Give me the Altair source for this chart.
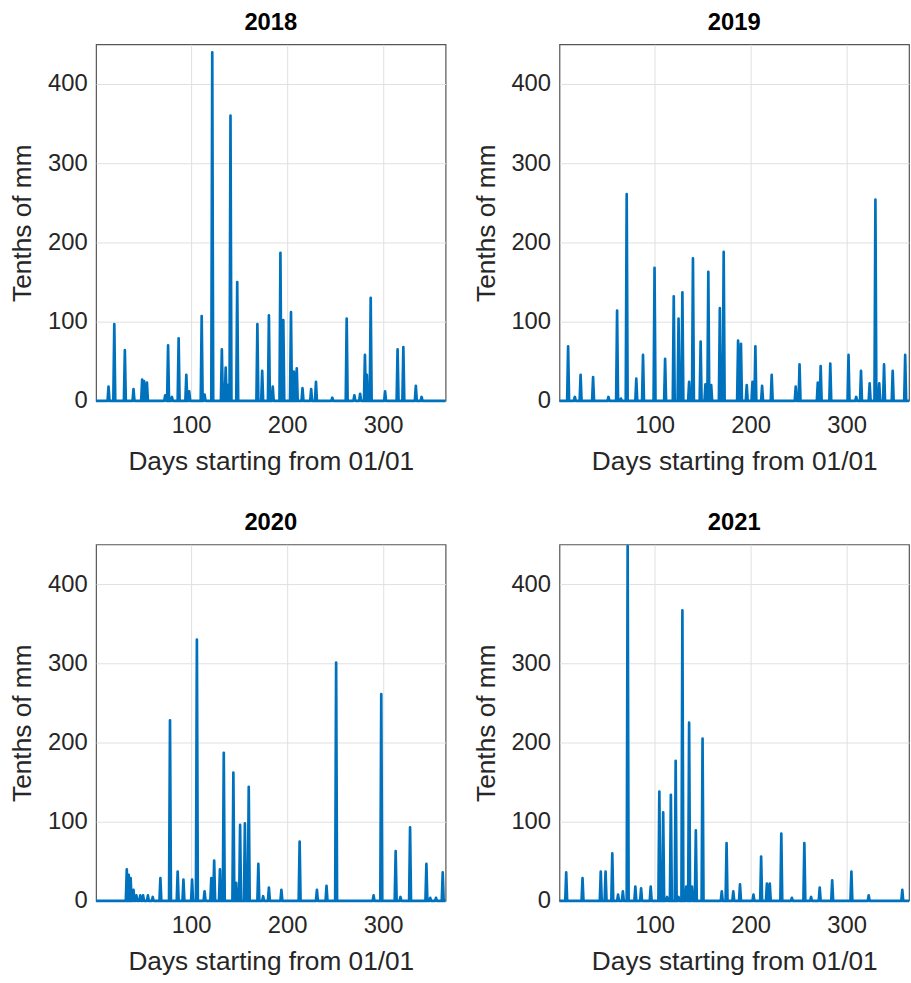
import altair as alt
import pandas as pd

# Daily precipitation (tenths of mm); days not listed are 0
days_2018 = [14, 20, 31, 40, 49, 51, 54, 73, 76, 80, 87, 95, 98, 111, 114, 122, 132, 134, 136, 138, 141, 148,
             169, 174, 181, 185, 193, 196, 204, 207, 210, 216, 225, 230, 247, 262, 270, 276, 281, 283, 287,
             302, 315, 321, 334, 340]
vals_2018 = [18, 97, 64, 15, 27, 25, 23, 7, 70, 5, 79, 33, 12, 107, 8, 440, 65, 20, 42, 20, 360, 150,
             97, 38, 108, 18, 187, 102, 112, 37, 41, 16, 15, 24, 4, 104, 7, 9, 58, 33, 130,
             12, 65, 68, 19, 5]

days_2019 = [10, 17, 23, 36, 52, 61, 65, 71, 81, 88, 100, 111, 120, 125, 129, 136, 140, 148, 153, 156, 159,
             168, 172, 187, 190, 196, 202, 205, 212, 222, 247, 251, 270, 273, 283, 302, 310, 315, 324, 330,
             334, 339, 348, 361]
vals_2019 = [69, 5, 33, 30, 5, 114, 3, 261, 28, 58, 168, 53, 132, 104, 137, 24, 180, 75, 21, 163, 20,
             117, 188, 76, 72, 20, 24, 69, 19, 33, 18, 46, 23, 44, 47, 58, 5, 38, 22, 254,
             22, 46, 38, 58]

days_2020 = [33, 35, 37, 40, 43, 47, 50, 55, 60, 68, 78, 86, 92, 101, 106, 114, 121, 124, 130, 134, 144, 147,
             151, 156, 160, 170, 175, 181, 194, 213, 231, 241, 251, 290, 298, 313, 318, 328, 345, 349, 355, 362]
vals_2020 = [40, 33, 29, 14, 7, 7, 7, 7, 5, 29, 228, 37, 27, 27, 330, 12, 29, 51, 40, 187, 162, 23,
             96, 98, 144, 47, 6, 17, 14, 75, 14, 19, 301, 7, 261, 63, 5, 93, 47, 4, 4, 36]

days_2021 = [8, 25, 44, 49, 56, 62, 67, 72, 80, 86, 96, 105, 109, 113, 117, 122, 125, 129, 133, 136, 139, 143,
             150, 170, 175, 182, 189, 203, 211, 217, 220, 232, 243, 256, 263, 272, 285, 305, 323, 358]
vals_2021 = [36, 29, 37, 37, 60, 8, 12, 448, 18, 16, 18, 138, 112, 5, 134, 177, 5, 367, 18, 225, 18, 89,
             205, 12, 73, 12, 21, 8, 56, 22, 22, 85, 4, 73, 5, 17, 26, 37, 7, 14]

years = [2018, 2019, 2020, 2021]
series = {2018: (days_2018, vals_2018), 2019: (days_2019, vals_2019),
          2020: (days_2020, vals_2020), 2021: (days_2021, vals_2021)}

rows = []
for yr in years:
    d, v = series[yr]
    lookup = dict(zip(d, v))
    for day in range(1, 366):
        rows.append({"year": yr, "day": day, "value": lookup.get(day, 0)})
df = pd.DataFrame(rows)

FONT = "Liberation Sans"


def panel(yr):
    return (
        alt.Chart(df)
        .transform_filter(alt.datum.year == yr)
        .mark_line(color="#0072BD", strokeWidth=2.7, clip=False, strokeJoin="round")
        .encode(
            x=alt.X("day:Q", scale=alt.Scale(domain=[1, 365], nice=False, zero=False),
                    axis=alt.Axis(values=[100, 200, 300], title="Days starting from 01/01")),
            y=alt.Y("value:Q", scale=alt.Scale(domain=[0, 450], nice=False),
                    axis=alt.Axis(values=[0, 100, 200, 300, 400], title="Tenths of mm")),
        )
        .properties(width=353, height=360, title=str(yr))
    )


top = alt.hconcat(panel(2018), panel(2019), spacing=25)
bottom = alt.hconcat(panel(2020), panel(2021), spacing=25)
chart = (
    alt.vconcat(top, bottom, spacing=34)
    .properties(padding={"left": 9, "top": 5, "right": 0, "bottom": 0}, background="white")
    .configure_axis(
        labelFont=FONT, labelFontSize=24, labelColor="#262626",
        titleFont=FONT, titleFontSize=26.5, titleFontWeight="normal", titleColor="#262626",
        gridColor="#e0e0e0", gridWidth=1, domain=False, ticks=False,
    )
    .configure_axisX(labelPadding=13, titlePadding=11)
    .configure_axisY(labelPadding=9, titlePadding=11)
    .configure_view(stroke="#555555", strokeWidth=1.2)
    .configure_title(font=FONT, fontSize=24, fontWeight="bold", color="#000000", offset=10)
    .configure_concat(spacing=25)
)

chart.save("out.html", embed_options={"renderer": "svg", "actions": False})
